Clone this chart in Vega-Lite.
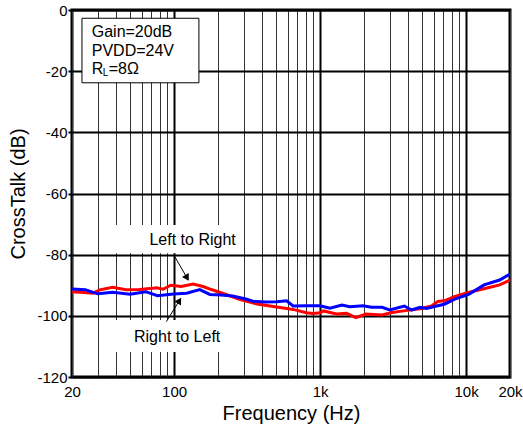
{
  "$schema": "https://vega.github.io/schema/vega-lite/v6.json",
  "width": 438,
  "height": 367,
  "autosize": {"type": "none"},
  "padding": {"left": 72, "top": 10, "right": 13, "bottom": 54},
  "background": "white",
  "config": {
    "view": {"stroke": "black", "strokeWidth": 3},
    "font": "Liberation Sans",
    "text": {"font": "Liberation Sans"}
  },
  "layer": [
    {
      "data": {
        "values": [
          {"f": 20, "db": -92.1, "s": "Left to Right"},
          {"f": 24, "db": -92.4, "s": "Left to Right"},
          {"f": 28, "db": -92.6, "s": "Left to Right"},
          {"f": 31, "db": -91.5, "s": "Left to Right"},
          {"f": 38, "db": -90.7, "s": "Left to Right"},
          {"f": 47, "db": -91.5, "s": "Left to Right"},
          {"f": 58, "db": -91.4, "s": "Left to Right"},
          {"f": 68, "db": -91.1, "s": "Left to Right"},
          {"f": 76, "db": -90.8, "s": "Left to Right"},
          {"f": 84, "db": -91.3, "s": "Left to Right"},
          {"f": 95, "db": -90.0, "s": "Left to Right"},
          {"f": 112, "db": -90.4, "s": "Left to Right"},
          {"f": 135, "db": -89.6, "s": "Left to Right"},
          {"f": 158, "db": -90.4, "s": "Left to Right"},
          {"f": 180, "db": -91.4, "s": "Left to Right"},
          {"f": 230, "db": -93.1, "s": "Left to Right"},
          {"f": 280, "db": -94.6, "s": "Left to Right"},
          {"f": 370, "db": -96.1, "s": "Left to Right"},
          {"f": 505, "db": -97.1, "s": "Left to Right"},
          {"f": 654, "db": -97.9, "s": "Left to Right"},
          {"f": 806, "db": -99.0, "s": "Left to Right"},
          {"f": 893, "db": -99.2, "s": "Left to Right"},
          {"f": 1000, "db": -99.0, "s": "Left to Right"},
          {"f": 1052, "db": -98.4, "s": "Left to Right"},
          {"f": 1300, "db": -99.4, "s": "Left to Right"},
          {"f": 1520, "db": -99.2, "s": "Left to Right"},
          {"f": 1760, "db": -100.6, "s": "Left to Right"},
          {"f": 2060, "db": -99.4, "s": "Left to Right"},
          {"f": 2660, "db": -99.7, "s": "Left to Right"},
          {"f": 3110, "db": -98.9, "s": "Left to Right"},
          {"f": 3840, "db": -98.3, "s": "Left to Right"},
          {"f": 4960, "db": -97.6, "s": "Left to Right"},
          {"f": 5800, "db": -96.8, "s": "Left to Right"},
          {"f": 6400, "db": -95.3, "s": "Left to Right"},
          {"f": 7100, "db": -95.1, "s": "Left to Right"},
          {"f": 8300, "db": -93.7, "s": "Left to Right"},
          {"f": 10500, "db": -92.3, "s": "Left to Right"},
          {"f": 13700, "db": -91.0, "s": "Left to Right"},
          {"f": 17000, "db": -89.9, "s": "Left to Right"},
          {"f": 20000, "db": -88.3, "s": "Left to Right"},
          {"f": 20, "db": -91.2, "s": "Right to Left"},
          {"f": 24.7, "db": -91.5, "s": "Right to Left"},
          {"f": 30, "db": -92.8, "s": "Right to Left"},
          {"f": 38, "db": -92.3, "s": "Right to Left"},
          {"f": 50, "db": -92.9, "s": "Right to Left"},
          {"f": 64, "db": -92.1, "s": "Right to Left"},
          {"f": 77, "db": -93.4, "s": "Right to Left"},
          {"f": 99, "db": -92.9, "s": "Right to Left"},
          {"f": 122, "db": -92.6, "s": "Right to Left"},
          {"f": 150, "db": -91.4, "s": "Right to Left"},
          {"f": 176, "db": -93.0, "s": "Right to Left"},
          {"f": 210, "db": -93.2, "s": "Right to Left"},
          {"f": 252, "db": -93.5, "s": "Right to Left"},
          {"f": 315, "db": -94.6, "s": "Right to Left"},
          {"f": 346, "db": -95.2, "s": "Right to Left"},
          {"f": 420, "db": -95.5, "s": "Right to Left"},
          {"f": 505, "db": -95.4, "s": "Right to Left"},
          {"f": 590, "db": -95.1, "s": "Right to Left"},
          {"f": 654, "db": -96.8, "s": "Right to Left"},
          {"f": 806, "db": -96.7, "s": "Right to Left"},
          {"f": 1000, "db": -96.7, "s": "Right to Left"},
          {"f": 1170, "db": -97.5, "s": "Right to Left"},
          {"f": 1410, "db": -96.5, "s": "Right to Left"},
          {"f": 1600, "db": -97.0, "s": "Right to Left"},
          {"f": 1970, "db": -96.7, "s": "Right to Left"},
          {"f": 2250, "db": -97.2, "s": "Right to Left"},
          {"f": 2660, "db": -97.2, "s": "Right to Left"},
          {"f": 3000, "db": -98.1, "s": "Right to Left"},
          {"f": 3780, "db": -96.8, "s": "Right to Left"},
          {"f": 4240, "db": -98.1, "s": "Right to Left"},
          {"f": 4830, "db": -97.2, "s": "Right to Left"},
          {"f": 5380, "db": -97.6, "s": "Right to Left"},
          {"f": 6280, "db": -96.8, "s": "Right to Left"},
          {"f": 7100, "db": -96.2, "s": "Right to Left"},
          {"f": 8300, "db": -94.6, "s": "Right to Left"},
          {"f": 10500, "db": -92.9, "s": "Right to Left"},
          {"f": 13300, "db": -89.9, "s": "Right to Left"},
          {"f": 17000, "db": -88.3, "s": "Right to Left"},
          {"f": 20000, "db": -86.3, "s": "Right to Left"}
        ]
      },
      "mark": {"type": "line", "strokeWidth": 3, "clip": true},
      "encoding": {
        "x": {
          "field": "f", "type": "quantitative",
          "scale": {"type": "log", "domain": [20, 20000], "nice": false},
          "axis": {
            "values": [20, 30, 40, 50, 60, 70, 80, 90, 100, 200, 300, 400, 500, 600, 700, 800, 900, 1000, 2000, 3000, 4000, 5000, 6000, 7000, 8000, 9000, 10000, 20000],
            "labelExpr": "datum.value == 20 ? '20' : datum.value == 100 ? '100' : datum.value == 1000 ? '1k' : datum.value == 10000 ? '10k' : datum.value == 20000 ? '20k' : ''",
            "grid": true,
            "gridColor": {"condition": {"test": "datum.value == 100 || datum.value == 1000 || datum.value == 10000", "value": "black"}, "value": "#333333"},
            "gridWidth": {"condition": {"test": "datum.value == 100 || datum.value == 1000 || datum.value == 10000", "value": 2}, "value": 1},
            "gridOpacity": 1,
            "ticks": false,
            "domain": false,
            "labelFontSize": 15,
            "labelColor": "black",
            "labelPadding": 7,
            "labelOverlap": false,
            "labelFlush": false,
            "title": "Frequency (Hz)",
            "titleFontSize": 20,
            "titleFontWeight": "normal",
            "titleColor": "black",
            "titlePadding": 4
          }
        },
        "y": {
          "field": "db", "type": "quantitative",
          "scale": {"domain": [-120, 0], "nice": false},
          "axis": {
            "values": [-120, -100, -80, -60, -40, -20, 0],
            "labelExpr": "'' + datum.value",
            "grid": true,
            "gridColor": "black",
            "gridWidth": 2,
            "gridOpacity": 1,
            "tickSize": 4,
            "tickWidth": 2,
            "tickColor": "black",
            "domain": false,
            "labelFontSize": 15,
            "labelColor": "black",
            "labelPadding": 1,
            "labelFlush": false,
            "title": "CrossTalk (dB)",
            "titleFontSize": 20,
            "titleFontWeight": "normal",
            "titleColor": "black",
            "titlePadding": 8
          }
        },
        "color": {
          "field": "s", "type": "nominal",
          "scale": {"domain": ["Left to Right", "Right to Left"], "range": ["#FF0000", "#0000FF"]},
          "legend": null
        }
      }
    },
    {
      "data": {
        "values": [
          {"f1": 40, "f2": 300, "d1": -70.3, "d2": -79.5},
          {"f1": 40, "f2": 255, "d1": -101.4, "d2": -111.8}
        ]
      },
      "mark": {"type": "rect", "fill": "white", "stroke": null},
      "encoding": {
        "x": {"field": "f1", "type": "quantitative"},
        "x2": {"field": "f2"},
        "y": {"field": "d1", "type": "quantitative"},
        "y2": {"field": "d2"}
      }
    },
    {
      "data": {"values": [{"f1": 23.4, "f2": 148, "d1": -2.7, "d2": -23.8}]},
      "mark": {"type": "rect", "fill": "white", "stroke": "black", "strokeWidth": 1},
      "encoding": {
        "x": {"field": "f1", "type": "quantitative"},
        "x2": {"field": "f2"},
        "y": {"field": "d1", "type": "quantitative"},
        "y2": {"field": "d2"}
      }
    },
    {
      "data": {
        "values": [
          {"f": 134, "d": -75.2, "t": "Left to Right"},
          {"f": 105, "d": -106.8, "t": "Right to Left"}
        ]
      },
      "mark": {"type": "text", "fontSize": 16, "align": "center", "baseline": "middle", "color": "black"},
      "encoding": {
        "x": {"field": "f", "type": "quantitative"},
        "y": {"field": "d", "type": "quantitative"},
        "text": {"field": "t"}
      }
    },
    {
      "data": {
        "values": [
          {"f": 27.3, "d": -7.1, "t": "Gain=20dB"},
          {"f": 27.3, "d": -13.3, "t": "PVDD=24V"},
          {"f": 27.3, "d": -19.4, "t": "R"}
        ]
      },
      "mark": {"type": "text", "fontSize": 16, "align": "left", "baseline": "middle", "color": "black"},
      "encoding": {
        "x": {"field": "f", "type": "quantitative"},
        "y": {"field": "d", "type": "quantitative"},
        "text": {"field": "t"}
      }
    },
    {
      "data": {"values": [{"f": 27.3, "d": -19.4, "t": "L"}]},
      "mark": {"type": "text", "fontSize": 10, "align": "left", "baseline": "middle", "color": "black", "dx": 11, "dy": 4},
      "encoding": {
        "x": {"field": "f", "type": "quantitative"},
        "y": {"field": "d", "type": "quantitative"},
        "text": {"field": "t"}
      }
    },
    {
      "data": {"values": [{"f": 27.3, "d": -19.4, "t": "=8Ω"}]},
      "mark": {"type": "text", "fontSize": 16, "align": "left", "baseline": "middle", "color": "black", "dx": 17},
      "encoding": {
        "x": {"field": "f", "type": "quantitative"},
        "y": {"field": "d", "type": "quantitative"},
        "text": {"field": "t"}
      }
    },
    {
      "data": {
        "values": [
          {"f1": 101.3, "d1": -80.7, "f2": 122.8, "d2": -87.6},
          {"f1": 88.6, "d1": -101.9, "f2": 108.8, "d2": -95.0}
        ]
      },
      "mark": {"type": "rule", "color": "black", "strokeWidth": 1},
      "encoding": {
        "x": {"field": "f1", "type": "quantitative"},
        "x2": {"field": "f2"},
        "y": {"field": "d1", "type": "quantitative"},
        "y2": {"field": "d2"}
      }
    },
    {
      "data": {"values": [{"f": 122.8, "d": -87.6}]},
      "mark": {"type": "point", "shape": "triangle-up", "filled": true, "color": "black", "opacity": 1, "size": 60, "angle": 150},
      "encoding": {
        "x": {"field": "f", "type": "quantitative"},
        "y": {"field": "d", "type": "quantitative"}
      }
    },
    {
      "data": {"values": [{"f": 108.8, "d": -95.0}]},
      "mark": {"type": "point", "shape": "triangle-up", "filled": true, "color": "black", "opacity": 1, "size": 60, "angle": 31},
      "encoding": {
        "x": {"field": "f", "type": "quantitative"},
        "y": {"field": "d", "type": "quantitative"}
      }
    }
  ]
}
